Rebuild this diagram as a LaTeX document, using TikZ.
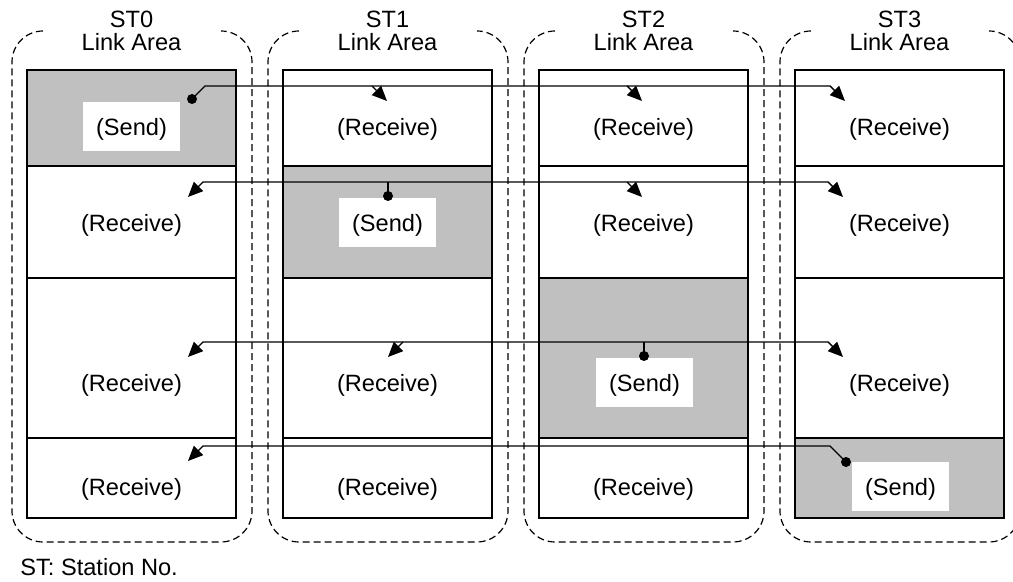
\documentclass[tikz,border=0pt]{standalone}
\usepackage{fontspec}
\setmainfont{Liberation Sans}
\usetikzlibrary{arrows.meta}
\definecolor{sendgrey}{HTML}{C0C0C0}
\begin{document}
\begin{tikzpicture}[x=0.5pt,y=-0.5pt,
  cellline/.style={draw=black, line width=1pt},
  area/.style={draw=black, dash pattern=on 3.5pt off 2pt, line width=0.6pt, rounded corners=15.5pt},
  lbl/.style={font=\fontsize{11.8}{14}\selectfont, inner sep=0pt},
  sendbox/.style={fill=white, inner sep=0pt, minimum width=48.5pt, minimum height=24.5pt},
  link/.style={line width=0.7pt},
  arr/.style={link, -{Triangle[length=7.5pt,width=6.5pt]}},
  dot/.style={circle, fill=black, inner sep=0pt, minimum size=5pt}]
\useasboundingbox (0,0) rectangle (1013,582);
\clip (0,0) rectangle (1013,582);

% dashed link-area outlines and headers
\foreach \k in {0,1,2,3}{
  \pgfmathsetmacro{\L}{12+256*\k}
  \pgfmathsetmacro{\R}{\L+240}
  \pgfmathsetmacro{\C}{131.5+256*\k}
  \draw[area] (\L+31,31) -- (\L,31) -- (\L,542) -- (\R,542) -- (\R,31) -- (\R-31,31);
  \node[lbl, anchor=base] (hst\k) at (\C,28) {ST\k};
  \node[lbl, anchor=base] (hla\k) at (\C,51) {Link Area};
}

% grey send areas
\fill[sendgrey] (27,70) rectangle (236,166);
\fill[sendgrey] (283,166) rectangle (492,278);
\fill[sendgrey] (539,278) rectangle (748,438);
\fill[sendgrey] (795,438) rectangle (1004,518);

% cell frames
\foreach \k in {0,1,2,3}{
  \pgfmathsetmacro{\A}{27+256*\k}
  \pgfmathsetmacro{\B}{\A+209}
  \draw[cellline] (\A,70) rectangle (\B,518);
  \draw[cellline] (\A,166) -- (\B,166) (\A,278) -- (\B,278) (\A,438) -- (\B,438);
}

% white boxes behind the (Send) texts
\node[sendbox] (sb0) at (131.5,126.5) {};
\node[sendbox] (sb1) at (387.5,222.5) {};
\node[sendbox] (sb2) at (644.5,382.5) {};
\node[sendbox] (sb3) at (900.5,486.5) {};

% texts
\node[lbl] (s0) at (131.5,129.5) {(Send)};
\node[lbl] (r01) at (131.5,225.5) {(Receive)};
\node[lbl] (r02) at (131.5,385.5) {(Receive)};
\node[lbl] (r03) at (131.5,489.5) {(Receive)};

\node[lbl] (r10) at (387.5,129.5) {(Receive)};
\node[lbl] (s1) at (387.5,225.5) {(Send)};
\node[lbl] (r12) at (387.5,385.5) {(Receive)};
\node[lbl] (r13) at (387.5,489.5) {(Receive)};

\node[lbl] (r20) at (643.5,129.5) {(Receive)};
\node[lbl] (r21) at (643.5,225.5) {(Receive)};
\node[lbl] (s2) at (644.5,385.5) {(Send)};
\node[lbl] (r23) at (643.5,489.5) {(Receive)};

\node[lbl] (r30) at (899.5,129.5) {(Receive)};
\node[lbl] (r31) at (899.5,225.5) {(Receive)};
\node[lbl] (r32) at (899.5,385.5) {(Receive)};
\node[lbl] (s3) at (900.5,489.5) {(Send)};

\node[lbl, anchor=base west] (legend) at (20,576) {ST: Station No.};

% ---- row 1: ST0 sends
\node[dot] (d0) at (192,99) {};
\coordinate (a0s) at (205,86);
\coordinate (a0e) at (830,86);
\coordinate (t03) at (845,101);
\coordinate (b01) at (372,86);
\coordinate (t01) at (387,101);
\coordinate (b02) at (627,86);
\coordinate (t02) at (642,101);
\draw[arr] (d0.center) -- (a0s) -- (a0e) -- (t03);
\draw[arr] (b01) -- (t01);
\draw[arr] (b02) -- (t02);

% ---- row 2: ST1 sends
\node[dot] (d1) at (388,196) {};
\coordinate (m1) at (388,182);
\coordinate (b10) at (203,182);
\coordinate (t10) at (188,197);
\coordinate (b13) at (828,182);
\coordinate (t13) at (843,197);
\coordinate (b12) at (627,182);
\coordinate (t12) at (642,197);
\draw[link] (d1.center) -- (m1);
\draw[arr] (m1) -- (b10) -- (t10);
\draw[arr] (m1) -- (b13) -- (t13);
\draw[arr] (b12) -- (t12);

% ---- row 3: ST2 sends
\node[dot] (d2) at (644,356) {};
\coordinate (m2) at (644,342);
\coordinate (b20) at (203,342);
\coordinate (t20) at (188,357);
\coordinate (b23) at (828,342);
\coordinate (t23) at (843,357);
\coordinate (b21) at (403,342);
\coordinate (t21) at (388,357);
\draw[link] (d2.center) -- (m2);
\draw[arr] (m2) -- (b20) -- (t20);
\draw[arr] (m2) -- (b23) -- (t23);
\draw[arr] (b21) -- (t21);

% ---- row 4: ST3 sends
\node[dot] (d3) at (846,462) {};
\coordinate (a3s) at (830,446);
\coordinate (b30) at (203,446);
\coordinate (t30) at (188,461);
\draw[arr] (d3.center) -- (a3s) -- (b30) -- (t30);
\end{tikzpicture}
\end{document}
